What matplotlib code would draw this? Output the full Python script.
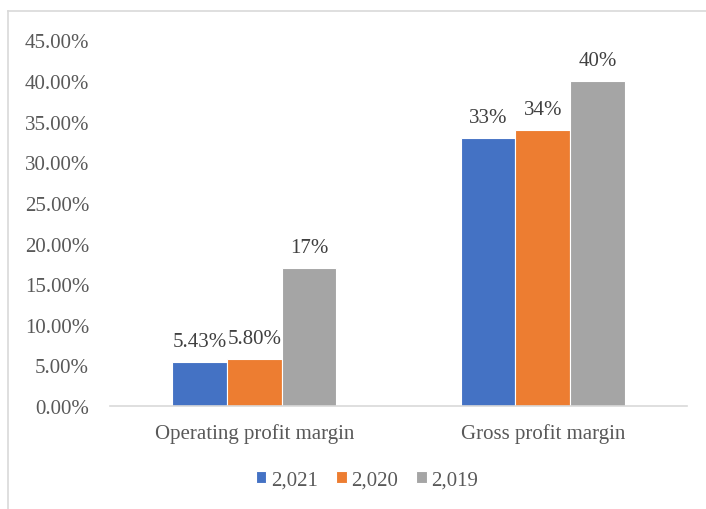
import matplotlib
matplotlib.use("Agg")
import matplotlib.pyplot as plt
from matplotlib.lines import Line2D
from matplotlib.ticker import FuncFormatter
import numpy as np

categories = ["Operating profit margin", "Gross profit margin"]
series_names = ["2,021", "2,020", "2,019"]
values_2021 = [0.0543, 0.33]
values_2020 = [0.058, 0.34]
values_2019 = [0.17, 0.40]
labels_2021 = ["5.43%", "33%"]
labels_2020 = ["5.80%", "34%"]
labels_2019 = ["17%", "40%"]
colors = ["#4472C4", "#ED7D31", "#A5A5A5"]
yticks = [0.0, 0.05, 0.10, 0.15, 0.20, 0.25, 0.30, 0.35, 0.40, 0.45]

plt.rcParams['font.family'] = ['Liberation Serif', 'DejaVu Serif']
txt = "#595959"
fs = 15

fig = plt.figure(figsize=(7.06, 5.10), dpi=100)
ax = fig.add_axes([110/706, 1-407/510, (687-110)/706, (407-41.4)/510])

x = np.arange(len(categories))
w = 0.19
all_vals = [values_2021, values_2020, values_2019]
all_labels = [labels_2021, labels_2020, labels_2019]
for i, (vals, labs, name, c) in enumerate(zip(all_vals, all_labels, series_names, colors)):
    bars = ax.bar(x + (i - 1) * w, vals, w, color=c, label=name,
                  edgecolor="white", linewidth=0.8)
    for b, lab in zip(bars, labs):
        ax.annotate(lab, (b.get_x() + b.get_width() / 2, b.get_height()),
                    xytext=(0, 8), textcoords="offset points",
                    ha="center", va="bottom", fontsize=fs, color="#404040")

ax.set_xlim(-0.5, 1.5)
ax.set_ylim(0, 0.45)
ax.set_yticks(yticks)
ax.yaxis.set_major_formatter(FuncFormatter(lambda v, p: f"{v*100:.2f}%"))
ax.set_xticks(x)
ax.set_xticklabels(categories)
ax.tick_params(axis="both", length=0, labelsize=fs, labelcolor=txt)
ax.tick_params(axis="y", pad=15)
ax.tick_params(axis="x", pad=12)
for s in ["top", "right", "left"]:
    ax.spines[s].set_visible(False)
ax.spines["bottom"].set_color("#D9D9D9")
ax.spines["bottom"].set_linewidth(1.2)

leg = fig.legend(loc="center", bbox_to_anchor=(367/706, 1-481/510), ncol=3,
                 frameon=False, fontsize=fs, handlelength=0.5, handleheight=0.55,
                 handletextpad=0.2, columnspacing=0.9)
for t in leg.get_texts():
    t.set_color(txt)

# chart border (partially cropped)
fig.add_artist(Line2D([8/706, 8/706], [0, 1-12/510], transform=fig.transFigure,
                      color="#D9D9D9", linewidth=1.2))
fig.add_artist(Line2D([8/706, 1], [1-12/510, 1-12/510], transform=fig.transFigure,
                      color="#D9D9D9", linewidth=1.2))

fig.savefig("out.png", dpi=100)
